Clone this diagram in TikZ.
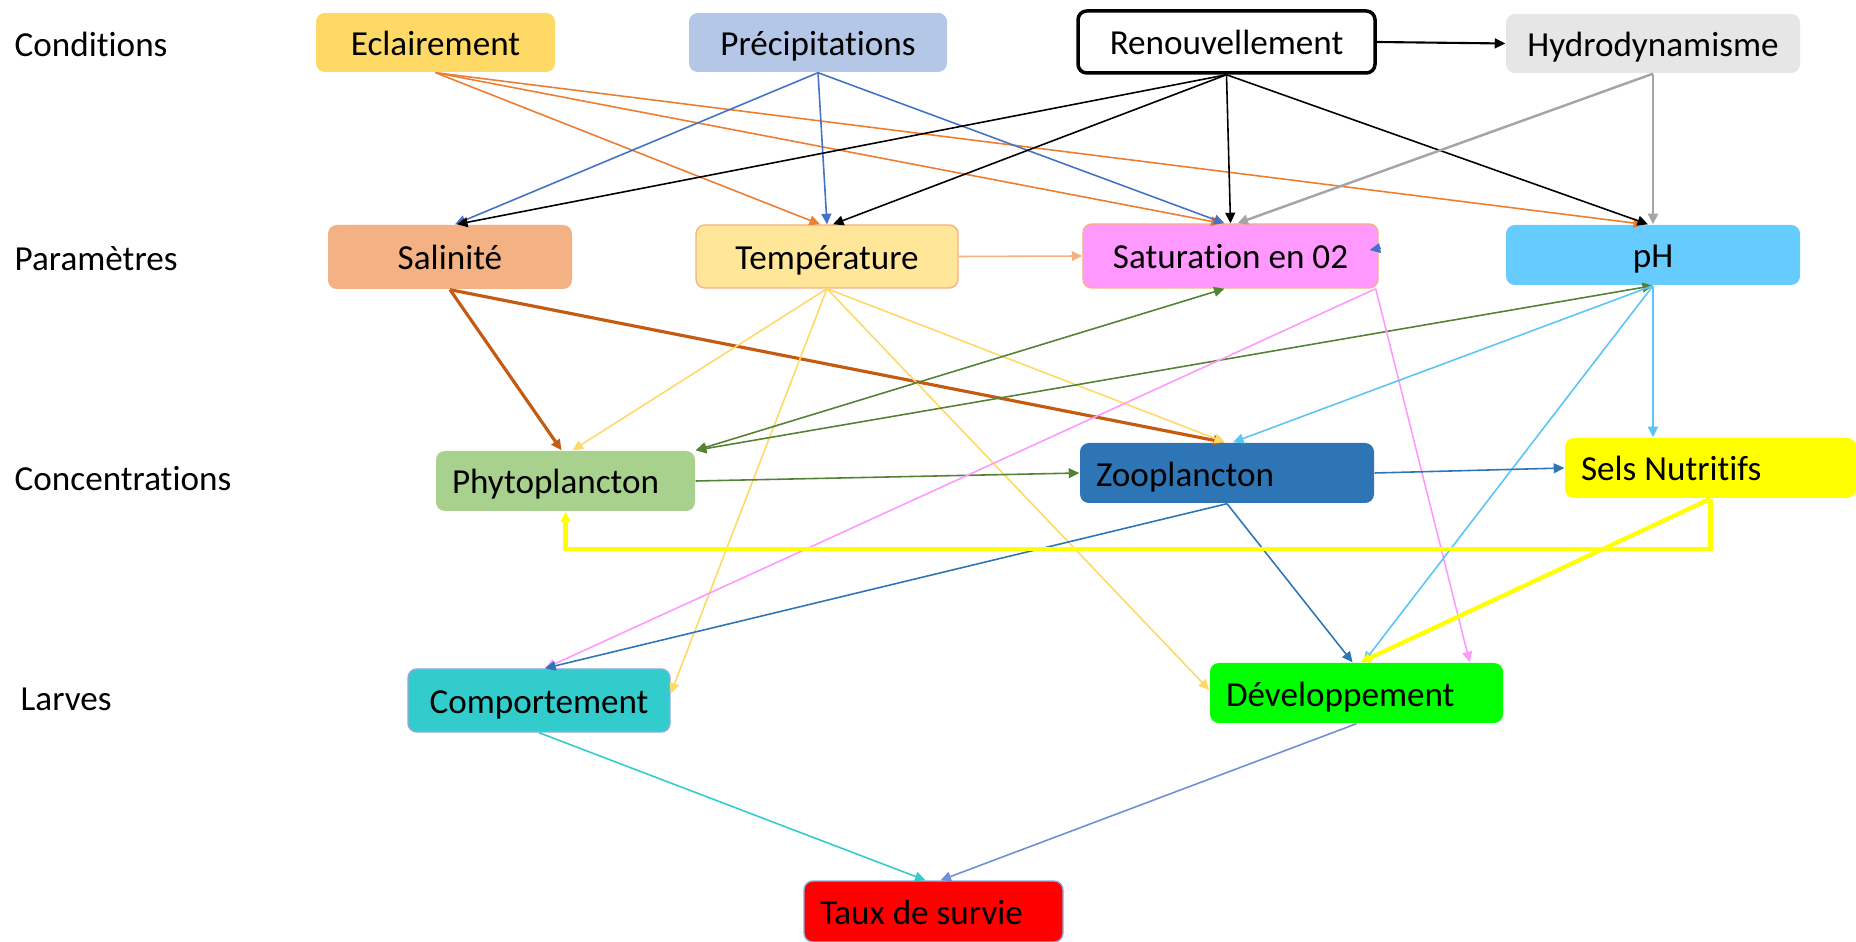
\documentclass[tikz,border=0pt]{standalone}
\usepackage{fontspec}
\setmainfont{Carlito}[Ligatures=NoCommon]
\usepackage{tikz}
\usetikzlibrary{arrows.meta,positioning}
\definecolor{eclfill}{HTML}{FFD966}
\definecolor{prefill}{HTML}{B4C7E7}
\definecolor{hydfill}{HTML}{E7E6E6}
\definecolor{salfill}{HTML}{F4B183}
\definecolor{temfill}{HTML}{FFE699}
\definecolor{satfill}{HTML}{FF99FF}
\definecolor{phfill}{HTML}{66CCFF}
\definecolor{phyfill}{HTML}{A9D18E}
\definecolor{zoofill}{HTML}{2E75B6}
\definecolor{selfill}{HTML}{FFFF00}
\definecolor{comfill}{HTML}{33CCCC}
\definecolor{devfill}{HTML}{00FF00}
\definecolor{taufill}{HTML}{FF0000}
\definecolor{bordblue}{HTML}{8FAADC}
\definecolor{cecl}{HTML}{ED7D31}
\definecolor{cpre}{HTML}{4472C4}
\definecolor{chyd}{HTML}{A5A5A5}
\definecolor{csal}{HTML}{C55A11}
\definecolor{ctem}{HTML}{FFD966}
\definecolor{cphy}{HTML}{548235}
\definecolor{csat}{HTML}{FF99FF}
\definecolor{cph}{HTML}{5BC5F5}
\definecolor{czoo}{HTML}{2E75B6}
\definecolor{ccom}{HTML}{33CCCC}
\definecolor{cdev}{HTML}{6F8FD6}

\begin{document}
\begin{tikzpicture}[
  x=1cm,y=1cm,>={Triangle[length=3pt,width=2.8pt]},
  box/.style={rounded corners=2.5pt,align=center,font=\fontsize{10}{12}\selectfont,
    minimum height=6mm,inner sep=0pt,text height=8.2pt,text depth=0.8pt},
  lbox/.style={box,align=left,inner xsep=1.6mm,
    execute at begin node={\spaceskip=0pt\relax}},
  rowlabel/.style={anchor=west,font=\fontsize{10}{12}\selectfont,inner sep=0pt,
    text height=8.2pt,text depth=0.8pt},
  link/.style={->,line width=0.45pt}
]
\useasboundingbox (0,0) rectangle (18.56,-9.42);
\node[rowlabel] (lcond)  at (0.14,-0.44) {Conditions};
\node[rowlabel] (lparam) at (0.14,-2.58) {Paramètres};
\node[rowlabel] (lconc)  at (0.14,-4.77) {Concentrations};
\node[rowlabel] (llarv)  at (0.20,-6.97) {Larves};
\node[box,fill=eclfill,minimum width=23.9mm,minimum height=5.9mm] (ecl) at (4.355,-0.425) {Eclairement};
\node[box,fill=prefill,minimum width=25.8mm,minimum height=5.9mm] (pre) at (8.18,-0.425) {Précipitations};
\node[box,draw=black,line width=1pt,fill=white,minimum width=29.7mm,minimum height=6.2mm] (ren) at (12.265,-0.42) {Renouvellement};
\node[box,fill=hydfill,minimum width=29.4mm,minimum height=5.9mm] (hyd) at (16.53,-0.435) {Hydrodynamisme};
\node[box,fill=salfill,minimum width=24.4mm,minimum height=6.4mm] (sal) at (4.50,-2.57) {Salinité};
\node[box,fill=temfill,draw=salfill,minimum width=26.2mm,minimum height=6.3mm] (tem) at (8.27,-2.565) {Température};
\node[box,fill=satfill,draw=salfill,minimum width=29.5mm,minimum height=6.4mm] (sat) at (12.305,-2.56) {Saturation en 02};
\node[box,fill=phfill,minimum width=29.4mm] (ph) at (16.53,-2.55) {pH};
\node[lbox,fill=phyfill,text width=22.7mm] (phy) at (5.655,-4.81) {Phytoplancton};
\node[lbox,fill=zoofill,text width=26.2mm] (zoo) at (12.27,-4.73) {Zooplancton};
\node[lbox,fill=selfill,text width=25.9mm] (sel) at (17.105,-4.68) {Sels Nutritifs};
\node[box,fill=comfill,draw=bordblue,minimum width=26.2mm,minimum height=6.3mm] (com) at (5.39,-7.005) {Comportement};
\node[lbox,fill=devfill,text width=26.1mm] (dev) at (13.565,-6.93) {Développement};
\node[lbox,fill=taufill,draw=bordblue,text width=22.7mm,minimum height=6.1mm] (tau) at (9.335,-9.115) {Taux de survie};
\draw[link,cecl] (ecl.south) -- ([xshift=-0.7mm]tem.north);
\draw[link,cecl] (ecl.south) -- ([xshift=-0.9mm]sat.north);
\draw[link,cecl] (ecl.south) -- ([xshift=-0.9mm]ph.north);
\draw[link,cpre] (pre.south) -- ([xshift=0.5mm]sal.north);
\draw[link,cpre] (pre.south) -- (tem.north);
\draw[link,cpre] (pre.south) -- ([xshift=-0.6mm]sat.north);
\draw[link,line width=0.6pt] (ren.east) -- (hyd.west);
\draw[link] (ren.south) -- ([xshift=0.7mm]sal.north);
\draw[link] (ren.south) -- ([xshift=0.6mm]tem.north);
\draw[link] (ren.south) -- (sat.north);
\draw[link] (ren.south) -- ([xshift=-0.5mm]ph.north);
\draw[link,chyd,line width=0.7pt] (hyd.south) -- ([xshift=0.7mm]sat.north);
\draw[link,chyd,line width=0.7pt] (hyd.south) -- (ph.north);
\draw[link,csal,line width=0.9pt] (sal.south) -- ([xshift=-0.4mm]phy.north);
\draw[link,csal,line width=0.9pt] (sal.south) -- ([xshift=-0.3mm]zoo.north);
\draw[link,salfill] (tem.east) -- (sat.west);
\draw[link,ctem] (tem.south) -- ([xshift=0.7mm]phy.north);
\draw[link,ctem] (tem.south) -- ([xshift=-0.2mm]zoo.north);
\draw[link,ctem] (tem.south) -- ([yshift=0.7mm]com.east);
\draw[link,ctem] (tem.south) -- ([yshift=0.3mm]dev.west);
\draw[link,cphy,<->] (phy.north east) -- ([xshift=-0.6mm]sat.south);
\draw[link,cphy,<->] (phy.north east) -- (ph.south);
\draw[link,cphy] (phy.east) -- (zoo.west);
\draw[link,csat] ([xshift=-0.3mm]sat.south east) -- ([xshift=0.6mm]com.north);
\draw[link,csat] ([xshift=-0.3mm]sat.south east) -- ([xshift=-3.4mm]dev.north east);
\draw[link,cpre] ([xshift=0.2mm,yshift=0.8mm]sat.east) -- ([xshift=-0.9mm,yshift=0.6mm]sat.east);
\draw[link,cph] (ph.south) -- ([xshift=0.6mm]zoo.north);
\draw[link,cph] (ph.south) -- (ph.south |- sel.north);
\draw[link,cph] (ph.south) -- ([xshift=0.7mm]dev.north);
\draw[link,czoo] (zoo.east) -- (sel.west);
\draw[link,czoo] (zoo.south) -- ([xshift=0.6mm]com.north);
\draw[link,czoo] (zoo.south) -- ([xshift=-0.4mm]dev.north);
\draw[link,selfill,line width=1.2pt] (sel.south) -- ++(0,-0.5) -| (phy.south);
\draw[link,selfill,line width=1.2pt] (sel.south) -- ([xshift=0.4mm]dev.north);
\draw[link,ccom] (com.south) -- ([xshift=-0.8mm]tau.north);
\draw[link,cdev] (dev.south) -- ([xshift=0.7mm]tau.north);
\end{tikzpicture}
\end{document}
